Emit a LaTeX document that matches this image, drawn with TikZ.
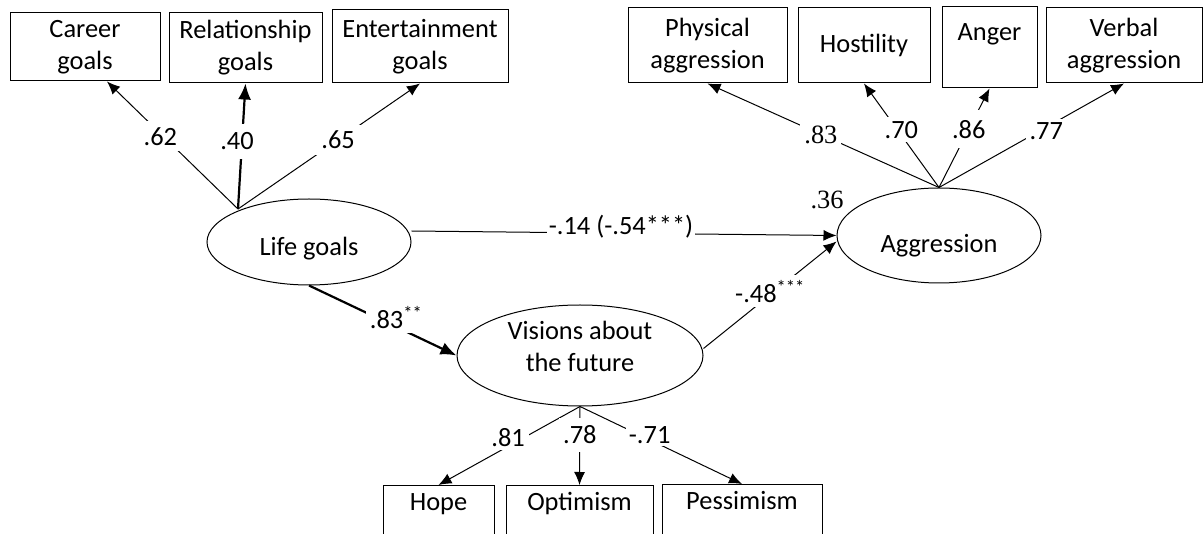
\documentclass[tikz,border=0pt]{standalone}
\usepackage{fontspec}
\setmainfont{Carlito}
\newfontfamily\timesnum{Liberation Serif}
\usetikzlibrary{calc,arrows.meta,shapes.geometric}

\begin{document}
\begin{tikzpicture}[x=1pt, y=-1pt,
  txt/.style={font=\fontsize{26.4pt}{32pt}\selectfont, inner sep=0pt},
  obsbox/.style={txt, draw, line width=1pt, align=center},
  cutbox/.style={obsbox, anchor=north, text height=25pt, text depth=45pt},
  latent/.style={txt, draw, ellipse, line width=1pt, align=center},
  link/.style={line width=1pt, -{Latex[length=13pt,width=11pt]}},
  bold link/.style={line width=2.2pt, -{Latex[length=16pt,width=13pt]}},
  coef/.style={txt, fill=white, inner sep=4pt}]

\useasboundingbox (0,0) rectangle (1203,534);
\clip (0,0) rectangle (1203,534);

% indicators of life goals
\node[obsbox, minimum width=150pt, minimum height=68pt] (career) at (85,47) {Career\\goals};
\node[obsbox, minimum width=153pt, minimum height=70pt] (relgoals) at (245.5,48) {Relationship\\goals};
\node[obsbox, minimum width=176pt, minimum height=73pt] (entgoals) at (420,46.5) {Entertainment\\goals};

% indicators of aggression
\node[obsbox, minimum width=159pt, minimum height=75pt] (physagg) at (707.5,45.5) {Physical\\aggression};
\node[obsbox, minimum width=132pt, minimum height=75pt] (hostility) at (864,45.5) {Hostility};
\node[obsbox, minimum width=95pt, minimum height=81pt] (anger) at (989.5,47.5) {\raisebox{-5pt}[\height][\depth]{Anger}\\\strut};
\node[obsbox, minimum width=156pt, minimum height=75pt] (verbagg) at (1124,45.5) {Verbal\\aggression};

% latent variables
\node[latent, minimum width=204pt, minimum height=86pt, text height=28pt, text depth=0pt] (lifegoals) at (309,242) {Life goals};
\node[latent, minimum width=204pt, minimum height=95pt, text height=35pt, text depth=0pt] (aggression) at (939,235.5) {Aggression};
\node[latent, minimum width=246pt, minimum height=101pt] (visions) at (580,355.5)
  {\raisebox{6pt}[\height][\depth]{\begin{tabular}{@{}c@{}}Visions about\\the future\end{tabular}}};
\node[txt, font=\fontsize{26.4pt}{32pt}\timesnum] (r2) at (827,200) {.36};

% indicators of visions about the future
\node[cutbox, minimum width=111pt] (hope) at (438.5,485) {Hope};
\node[cutbox, minimum width=147pt] (optimism) at (579.5,485) {Optimism};
\node[cutbox, minimum width=160pt] (pessimism) at (742,484) {Pessimism};

\coordinate (lg-hub) at (238,209);

\draw[link] (lg-hub) -- node[coef, pos=0.57, inner sep=6pt, xshift=-3]{.62} ($(career.south)+(22,0)$);
\draw[bold link] (lg-hub) -- node[coef, pos=0.54, inner ysep=9pt, xshift=-5]{.40} (relgoals.south);
\draw[link] (lg-hub) -- node[coef, pos=0.55, inner sep=6pt]{.65} (entgoals.south);

\draw[link] (aggression.north) -- node[coef, pos=0.51, font=\fontsize{26.4pt}{32pt}\timesnum]{.83} (physagg.south);
\draw[link] (aggression.north) -- node[coef, pos=0.555, xshift=4]{.70} (hostility.south);
\draw[link] (aggression.north) -- node[coef, pos=0.59, inner ysep=10pt]{.86} (anger.south);
\draw[link] (aggression.north) -- node[coef, pos=0.58, yshift=-4]{.77} (verbagg.south);

\draw[link] ($(lifegoals.east)+(0,-11)$) -- node[coef, pos=0.493, yshift=7, inner sep=2pt]{-.14 (-.54***)\hspace{32pt}} (aggression.west);
\draw[bold link] (lifegoals.south) -- node[coef, pos=0.57, yshift=8, xshift=3]{.83\textsuperscript{**}} (visions.west);
\draw[link] ($(visions.east)+(0,-7)$) -- node[coef, pos=0.47, inner sep=5pt, yshift=7, xshift=4]{-.48\textsuperscript{***}} ($(aggression.west)+(0,6)$);

\draw[link] (visions.south) -- node[coef, pos=0.48, yshift=7, xshift=-4]{.81} (hope.north);
\draw[link] (visions.south) -- node[coef, pos=0.36, inner ysep=8pt]{.78} (optimism.north);
\draw[link] (visions.south) -- node[coef, pos=0.43, yshift=5, inner sep=3pt]{-.71} (pessimism.north);
\end{tikzpicture}
\end{document}
